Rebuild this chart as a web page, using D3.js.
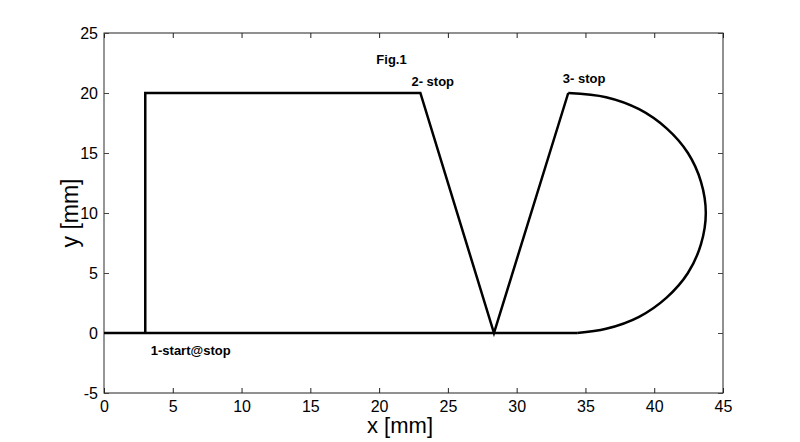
<!DOCTYPE html>
<html><head><meta charset="utf-8">
<script src="https://cdn.jsdelivr.net/npm/d3@7"></script>
<style>body{margin:0;background:#fff}svg{display:block}text{font-family:Arial,"Liberation Sans",sans-serif}</style>
</head><body><svg id="c" width="800" height="442"></svg>
<script>
const xTicks = [0,5,10,15,20,25,30,35,40,45];
const yTicks = [-5,0,5,10,15,20,25];
// straight part of the tool path (x, y) in mm
const pathX = [3,3,23,28.35,33.75];
const pathY = [0,20,20,0,20];
// circular return from 3-stop back to the base line
const arcX = [33.75,36.5,38.9,40.9,42.45,43.4,43.75,43.4,42.45,40.9,38.9,36.5,34.4];
const arcY = [20,19.65,18.65,17.05,15,12.6,10,7.4,5,2.95,1.35,0.35,0];
// base line
const baseX = [0,34.4];
const baseY = [0,0];
const labels = ["Fig.1","2- stop","3- stop","1-start@stop"];
const labelX = [19.8,22.35,33.35,3.4];
const labelY = [22.45,20.6,20.8,-1.8];

const svg = d3.select("#c");
const m = {l:104, r:723, t:33, b:393};
const x = d3.scaleLinear().domain([0,45]).range([m.l,m.r]);
const y = d3.scaleLinear().domain([-5,25]).range([m.b,m.t]);
const fmt = d => String(d);

svg.append("rect").attr("x",m.l).attr("y",m.t).attr("width",m.r-m.l).attr("height",m.b-m.t)
  .attr("fill","#fff").attr("stroke","#222").attr("stroke-width",1);
svg.append("line").attr("x1",m.l).attr("x2",m.l).attr("y1",m.t).attr("y2",m.b).attr("stroke","#999").attr("stroke-width",1.5);

const ax = (g)=>g.selectAll(".domain").remove();
svg.append("g").attr("transform",`translate(0,${m.b})`)
  .call(d3.axisBottom(x).tickValues(xTicks).tickSize(-5).tickPadding(8).tickFormat(fmt)).call(ax)
  .call(g=>g.selectAll("text").attr("font-size",16).attr("fill","#000"))
  .call(g=>g.selectAll("line").attr("stroke","#222"));
svg.append("g").attr("transform",`translate(0,${m.t})`)
  .call(d3.axisTop(x).tickValues(xTicks).tickSize(-5).tickFormat("")).call(ax)
  .call(g=>g.selectAll("line").attr("stroke","#222"));
svg.append("g").attr("transform",`translate(${m.l},0)`)
  .call(d3.axisLeft(y).tickValues(yTicks).tickSize(-5).tickPadding(6).tickFormat(fmt)).call(ax)
  .call(g=>g.selectAll("text").attr("font-size",16).attr("fill","#000"))
  .call(g=>g.selectAll("line").attr("stroke","#444"));
svg.append("g").attr("transform",`translate(${m.r},0)`)
  .call(d3.axisRight(y).tickValues(yTicks).tickSize(-5).tickFormat("")).call(ax)
  .call(g=>g.selectAll("line").attr("stroke","#444"));

const line = d3.line().x(d=>x(d[0])).y(d=>y(d[1]));
const stroke = p => p.attr("fill","none").attr("stroke","#000").attr("stroke-width",2.5);
svg.append("path").datum(baseX.map((v,i)=>[v,baseY[i]])).attr("d", line).call(stroke);
svg.append("path").datum(pathX.map((v,i)=>[v,pathY[i]])).attr("d", line).call(stroke).attr("stroke-linejoin","miter");
svg.append("path").datum(arcX.map((v,i)=>[v,arcY[i]])).attr("d", line.curve(d3.curveCatmullRom)).call(stroke);

labels.forEach((t,i)=>{
  svg.append("text").attr("x",x(labelX[i])).attr("y",y(labelY[i]))
    .attr("font-size",13).attr("font-weight","bold").attr("fill","#000").text(t);
});

svg.append("text").attr("x",400).attr("y",433).attr("text-anchor","middle").attr("font-size",22)
  .attr("fill","#000").text("x [mm]");
svg.append("text").attr("transform","translate(78,213) rotate(-90)").attr("text-anchor","middle").attr("font-size",23)
  .attr("fill","#000").text("y [mm]");
</script></body></html>
